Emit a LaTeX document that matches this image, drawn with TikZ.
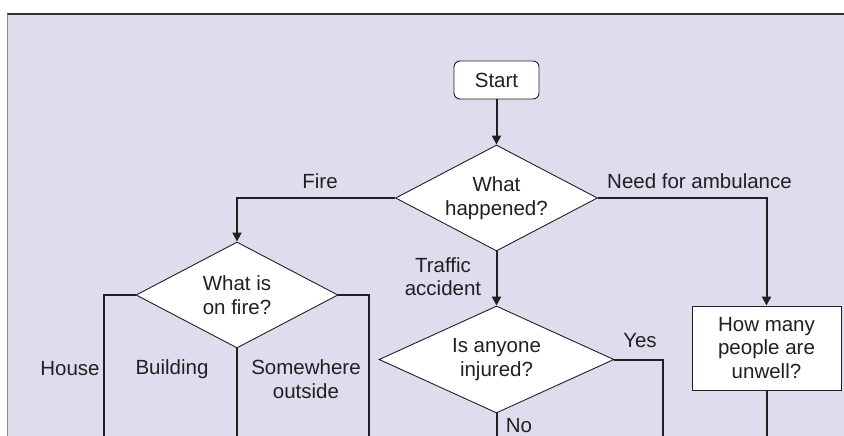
\documentclass[tikz,border=0pt]{standalone}
\usepackage{fontspec}
\setmainfont{Liberation Sans}
\usetikzlibrary{shapes.geometric,arrows.meta}
\definecolor{panel}{RGB}{222,221,238}
\definecolor{ink}{RGB}{35,31,32}
\begin{document}
\begin{tikzpicture}[x=1pt,y=-1pt,
  every node/.style={font=\fontsize{20.5}{23.5}\selectfont, text=ink},
  conn/.style={draw=ink, line width=2pt},
  arr/.style={conn, -{Triangle[width=9pt,length=9pt]}},
  qdiamond/.style={diamond, aspect=2, draw=ink, line width=0.9pt, fill=white, inner sep=0pt, align=center},
  startbox/.style={draw=ink, line width=0.9pt, fill=white, rounded corners=6pt, minimum width=85pt, minimum height=38pt, inner sep=0pt},
  qbox/.style={draw=ink, line width=0.9pt, fill=white, minimum width=149pt, minimum height=84pt, inner sep=0pt, align=center},
  lbl/.style={align=center, inner sep=0pt}
]
\useasboundingbox (0,0) rectangle (844,436);
\begin{scope}
  \clip (0,0) rectangle (844,436);
  \fill[panel] (7,14) rectangle (850,440);
  \draw[line width=1.5pt, draw=black!80] (7,14) -- (850,14);
  \draw[line width=1pt, draw=black!45] (7,14) -- (7,440);
\end{scope}

% nodes
\node[startbox] (start) at (496.5,80) {Start};
\node[qdiamond, minimum width=202pt, minimum height=106pt] (what) at (496.5,198) {What\\happened?};
\node[qdiamond, minimum width=202pt, minimum height=106pt] (fire) at (237,295) {What is\\on fire?};
\node[qdiamond, minimum width=235pt, minimum height=107pt] (inj) at (496.5,359.5) {Is anyone\\injured?};
\node[qbox] (amb) at (766.5,348) {How many\\people are\\unwell?};

% free ends at the bottom edge
\coordinate (houseEnd) at (104,436);
\coordinate (bldEnd) at (237,436);
\coordinate (outEnd) at (369,436);
\coordinate (noEnd) at (496.5,436);
\coordinate (yesEnd) at (663,436);
\coordinate (ambEnd) at (766.5,436);

% connectors
\draw[arr] (start) -- (what);
\draw[arr] (what.west) -| (fire.north);
\draw[arr] (what.east) -| (amb.north);
\draw[arr] (what.south) -- (inj.north);
\draw[conn] (fire.west) -| (houseEnd);
\draw[conn] (fire.south) -- (bldEnd);
\draw[conn] (fire.east) -| (outEnd);
\draw[conn] (inj.east) -| (yesEnd);
\draw[conn] (inj.south) -- (noEnd);
\draw[conn] (amb.south) -- (ambEnd);

% labels
\node[lbl] (lfire) at (320,181) {Fire};
\node[lbl] (lamb) at (699.5,181) {Need for ambulance};
\node[lbl] (ltraffic) at (443,276.5) {Traffic\\accident};
\node[lbl] (lhouse) at (70,369) {House};
\node[lbl] (lbld) at (172,369) {Building};
\node[lbl] (lout) at (306,379) {Somewhere\\outside};
\node[lbl] (lyes) at (640,341) {Yes};
\node[lbl] (lno) at (519,426) {No};
\end{tikzpicture}
\end{document}
